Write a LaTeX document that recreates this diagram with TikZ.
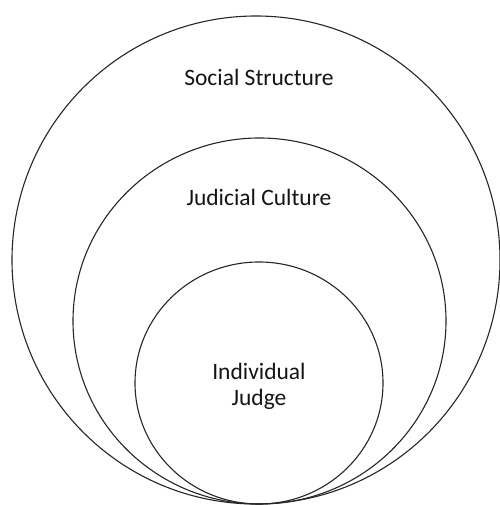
\documentclass[tikz,border=0pt]{standalone}
\usepackage{fontspec}
\setmainfont{Carlito}
\usetikzlibrary{shapes.geometric}
\begin{document}
\begin{tikzpicture}[x=1pt,y=1pt,
  ring/.style={draw=black!85, line width=1.1pt, ellipse, inner sep=0pt},
  lbl/.style={text=black!92, font=\fontsize{23.5}{27}\selectfont, align=center, inner sep=0pt}]
\useasboundingbox (0,0) rectangle (499,505);
\node[ring, minimum width=488pt, minimum height=488pt] (outer) at (256,245) {};
\node[ring, minimum width=373pt, minimum height=366pt] (middle) at (259.5,184) {};
\node[ring, minimum width=248pt, minimum height=242pt] (inner) at (259,122) {};
\node[lbl] (social) at (259,428) {Social Structure};
\node[lbl] (judicial) at (259,308) {Judicial Culture};
\node[lbl, font=\fontsize{23.5}{26}\selectfont] (judge) at (259,119) {Individual\\Judge};
\end{tikzpicture}
\end{document}
